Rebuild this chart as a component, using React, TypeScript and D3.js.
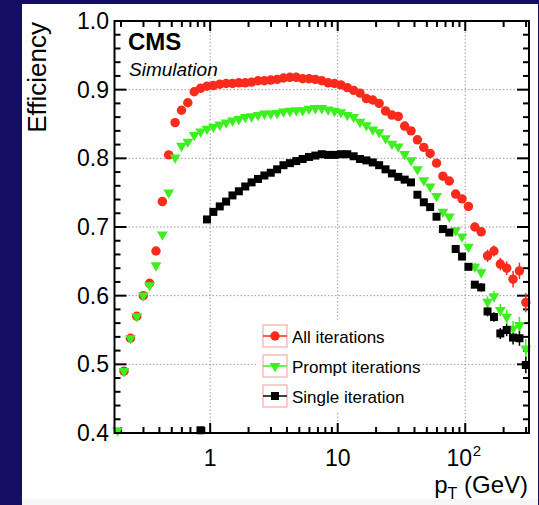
import React from 'react';
import * as d3 from 'd3';

// bin centres in pT (GeV), 0.05-decade bins
const pT = [
  0.188, 0.211, 0.237, 0.266, 0.299, 0.335, 0.376, 0.422, 0.473, 0.531,
  0.596, 0.668, 0.750, 0.841, 0.944, 1.059, 1.189, 1.334, 1.496, 1.679,
  1.884, 2.113, 2.371, 2.661, 2.985, 3.350, 3.758, 4.217, 4.732, 5.309,
  5.957, 6.683, 7.499, 8.414, 9.441, 10.59, 11.89, 13.34, 14.96, 16.79,
  18.84, 21.13, 23.71, 26.61, 29.85, 33.50, 37.58, 42.17, 47.32, 53.09,
  59.57, 66.83, 74.99, 84.14, 94.41, 105.9, 118.9, 133.4, 149.6, 167.9,
  188.4, 211.3, 237.1, 266.1, 298.5,
];

const allIterations = [
  null, 0.490, 0.538, 0.570, 0.600, 0.618, 0.665, 0.737, 0.805, 0.852,
  0.870, 0.881, 0.897, 0.902, 0.905, 0.906, 0.908, 0.909, 0.909, 0.910,
  0.910, 0.911, 0.913, 0.913, 0.914, 0.915, 0.917, 0.918, 0.918, 0.916,
  0.916, 0.915, 0.913, 0.910, 0.909, 0.907, 0.903, 0.899, 0.895, 0.887,
  0.885, 0.880, 0.869, 0.863, 0.861, 0.847, 0.840, 0.827, 0.816, 0.807,
  0.793, 0.774, 0.767, 0.748, 0.741, 0.730, 0.700, 0.693, 0.658, 0.665,
  0.646, 0.640, 0.624, 0.636, 0.590,
];

const promptIterations = [
  0.404, 0.490, 0.538, 0.570, 0.600, 0.615, 0.644, 0.689, 0.750, 0.801,
  0.818, 0.824, 0.834, 0.839, 0.843, 0.846, 0.849, 0.852, 0.855, 0.857,
  0.860, 0.861, 0.863, 0.865, 0.865, 0.866, 0.868, 0.869, 0.870, 0.870,
  0.872, 0.873, 0.873, 0.871, 0.869, 0.867, 0.863, 0.860, 0.853, 0.848,
  0.842, 0.838, 0.829, 0.821, 0.817, 0.806, 0.797, 0.784, 0.768, 0.759,
  0.745, 0.722, 0.715, 0.695, 0.686, 0.671, 0.642, 0.634, 0.591, 0.599,
  0.579, 0.569, 0.552, 0.557, 0.523,
];

const singleIteration = [
  null, null, null, null, null, null, null, null, null, null,
  null, null, null, 0.404, 0.711, 0.722, 0.730, 0.737, 0.746, 0.752,
  0.759, 0.765, 0.770, 0.775, 0.779, 0.784, 0.790, 0.793, 0.796, 0.799,
  0.802, 0.804, 0.806, 0.805, 0.805, 0.806, 0.806, 0.803, 0.799, 0.797,
  0.794, 0.790, 0.784, 0.778, 0.773, 0.769, 0.765, 0.747, 0.736, 0.729,
  0.715, 0.697, 0.692, 0.668, 0.657, 0.642, 0.616, 0.612, 0.577, 0.569,
  0.545, 0.550, 0.539, 0.538, 0.499,
];

// statistical errors, only visible in the last bins (from bin 56 on)
const errStart = 56;
const allErr = [0.006, 0.006, 0.009, 0.008, 0.009, 0.010, 0.012, 0.012, 0.014];
const promptErr = [0.006, 0.006, 0.008, 0.008, 0.009, 0.010, 0.011, 0.012, 0.014];
const singleErr = [0.005, 0.006, 0.007, 0.007, 0.008, 0.009, 0.010, 0.011, 0.012];

const seriesNames = ['All iterations', 'Prompt iterations', 'Single iteration'];

const yTicks = [0.4, 0.5, 0.6, 0.7, 0.8, 0.9, 1.0];
const yTickLabels = ['0.4', '0.5', '0.6', '0.7', '0.8', '0.9', '1.0'];
const xMajor = [1, 10, 100];
const xMinor = [0.2, 0.3, 0.4, 0.5, 0.6, 0.7, 0.8, 0.9, 2, 3, 4, 5, 6, 7, 8, 9,
  20, 30, 40, 50, 60, 70, 80, 90, 200, 300];

const font = 'Liberation Sans, Arial, Helvetica, sans-serif';
const RED = '#fa2a1c';
const GREEN = '#3bf01e';
const BLACK = '#000000';

const App = () => {
  const [width, height] = [539, 505];
  const fr = { left: 114.5, right: 529, top: 21, bottom: 433 };

  const x = d3.scaleLog().domain([0.1778, 316.2]).range([fr.left, fr.right]);
  const y = d3.scaleLinear().domain([0.4, 1.0]).range([fr.bottom, fr.top]);

  // minor y ticks every 0.02, skipping the majors
  const yMinor = d3.range(0.42, 1.0, 0.02).filter((v) => Math.abs(v * 10 - Math.round(v * 10)) > 0.01);

  const circle = d3.symbol().type(d3.symbolCircle).size(70)()!;
  const square = d3.symbol().type(d3.symbolSquare).size(64)()!;
  const triangle = d3.symbol().type(d3.symbolTriangle).size(50)()!;

  const series = [
    { name: seriesNames[0], values: allIterations, err: allErr, color: RED, shape: circle, rot: 0 },
    { name: seriesNames[1], values: promptIterations, err: promptErr, color: GREEN, shape: triangle, rot: 180 },
    { name: seriesNames[2], values: singleIteration, err: singleErr, color: BLACK, shape: square, rot: 0 },
  ];

  const legendX = 275;
  const legendRows = [336, 366, 396];

  return (
    <svg width={width} height={height} style={{ position: 'absolute', left: 0, top: 0 }} fontFamily={font}>
      <rect x={0} y={0} width={width} height={height} fill="#140f64" />
      <rect x={22} y={4} width={516} height={501} fill="#ffffff" />
      <rect x={22} y={499} width={516} height={6} fill="#f6f6f6" />

      {/* grid */}
      <g stroke="#9a9a9a" strokeWidth={1} strokeDasharray="1.5 2">
        {yTicks.slice(1, -1).map((v) => (
          <line key={'gy' + v} x1={fr.left} x2={fr.right} y1={y(v)} y2={y(v)} />
        ))}
        {xMajor.map((v) => (
          <line key={'gx' + v} x1={x(v)} x2={x(v)} y1={fr.top} y2={fr.bottom} />
        ))}
      </g>

      {/* legend background */}
      <rect x={258} y={321} width={160} height={91} fill="#ffffff" />

      {/* ticks */}
      <g stroke="#000" strokeWidth={2}>
        {yTicks.map((v) => (
          <g key={'yt' + v}>
            <line x1={fr.left} x2={fr.left + 12} y1={y(v)} y2={y(v)} />
            <line x1={fr.right} x2={fr.right - 12} y1={y(v)} y2={y(v)} />
          </g>
        ))}
        {yMinor.map((v) => (
          <g key={'ym' + v}>
            <line x1={fr.left} x2={fr.left + 6} y1={y(v)} y2={y(v)} />
            <line x1={fr.right} x2={fr.right - 6} y1={y(v)} y2={y(v)} />
          </g>
        ))}
        {xMajor.map((v) => (
          <g key={'xt' + v}>
            <line x1={x(v)} x2={x(v)} y1={fr.bottom} y2={fr.bottom - 10} />
            <line x1={x(v)} x2={x(v)} y1={fr.top} y2={fr.top + 10} />
          </g>
        ))}
        {xMinor.map((v) => (
          <g key={'xm' + v}>
            <line x1={x(v)} x2={x(v)} y1={fr.bottom} y2={fr.bottom - 6} />
            <line x1={x(v)} x2={x(v)} y1={fr.top} y2={fr.top + 6} />
          </g>
        ))}
      </g>

      {/* error bars */}
      {series.map((s) => (
        <g key={'e' + s.name} stroke={s.color} strokeWidth={1.5}>
          {s.err.map((e, i) => {
            const v = s.values[errStart + i];
            if (v == null) return null;
            const cx = x(pT[errStart + i]);
            return <line key={i} x1={cx} x2={cx} y1={y(v - e)} y2={y(v + e)} />;
          })}
        </g>
      ))}

      {/* markers */}
      {series.map((s) => (
        <g key={'m' + s.name} fill={s.color}>
          {s.values.map((v, i) =>
            v == null ? null : (
              <path key={i} d={s.shape} transform={`translate(${x(pT[i])},${y(v)}) rotate(${s.rot})`} />
            )
          )}
        </g>
      ))}

      {/* frame */}
      <rect x={fr.left} y={fr.top} width={fr.right - fr.left} height={fr.bottom - fr.top}
        fill="none" stroke="#000" strokeWidth={2} />

      {/* tick labels */}
      <g fontSize={23} fill="#000">
        {yTicks.map((v, i) => (
          <text key={'yl' + v} x={109} y={y(v) + 8} textAnchor="end">{yTickLabels[i]}</text>
        ))}
        <text x={x(1)} y={466} textAnchor="middle">1</text>
        <text x={x(10)} y={466} textAnchor="middle">10</text>
        <text x={x(100) - 6} y={466} textAnchor="middle">10</text>
        <text x={x(100) + 7.5} y={456} textAnchor="start" fontSize={15}>2</text>
      </g>

      {/* axis titles */}
      <text transform="translate(46,22) rotate(-90)" textAnchor="end" fontSize={26}>Efficiency</text>
      <text x={528} y={493} textAnchor="end" fontSize={24}>
        p<tspan dy={6} fontSize={16}>T</tspan><tspan dy={-6}> (GeV)</tspan>
      </text>

      {/* CMS label */}
      <text x={128} y={50} fontSize={24} fontWeight="bold">CMS</text>
      <text x={129} y={76} fontSize={19} fontStyle="italic">Simulation</text>

      {/* legend */}
      {series.map((s, i) => (
        <g key={'l' + s.name}>
          <rect x={legendX - 12} y={legendRows[i] - 11} width={24} height={22} fill="#fff" stroke="#f59a9a" strokeWidth={1} />
          <line x1={legendX - 12} x2={legendX + 12} y1={legendRows[i]} y2={legendRows[i]} stroke={s.color} strokeWidth={1.5} />
          <path d={s.shape} fill={s.color} transform={`translate(${legendX},${legendRows[i]}) rotate(${s.rot})`} />
          <text x={292} y={legendRows[i] + 7} fontSize={17}>{s.name}</text>
        </g>
      ))}
    </svg>
  );
};

export default App;
